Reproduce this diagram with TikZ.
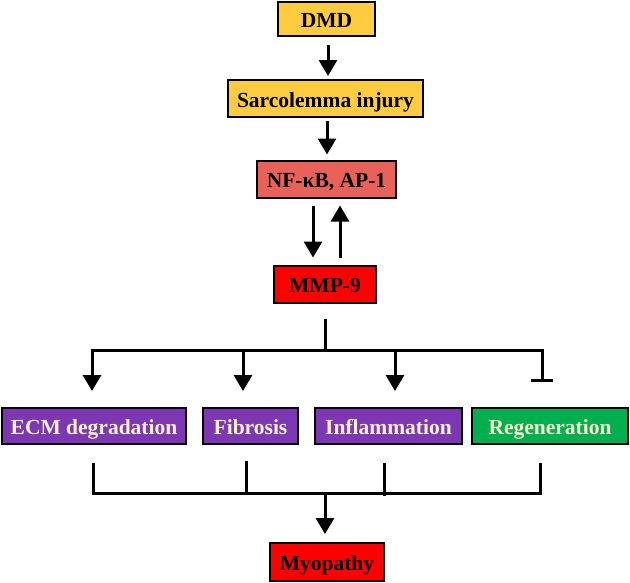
\documentclass[tikz,border=0pt]{standalone}
\usepackage{fontspec}
\setmainfont{Liberation Serif}
\usetikzlibrary{arrows.meta}

\definecolor{boxyellow}{RGB}{255,204,64}
\definecolor{boxsalmon}{RGB}{232,98,90}
\definecolor{boxred}{RGB}{255,0,0}
\definecolor{boxpurple}{RGB}{125,55,178}
\definecolor{boxgreen}{RGB}{0,176,80}
\definecolor{cream}{RGB}{255,242,204}

\begin{document}
\begin{tikzpicture}[x=1pt, y=-1pt,
    box/.style={rectangle, draw=black, line width=2pt, inner sep=0pt,
      minimum height=37pt, text height=17pt, text depth=0pt,
      font=\fontsize{21.5}{24}\selectfont\bfseries},
    link/.style={black, line width=3pt},
    arr/.style={link, -{Triangle[width=18pt,length=16pt]}},
    blunt/.style={link, -{Bar[width=22pt,line width=3pt]}}]
  \useasboundingbox (0,0) rectangle (630,582);
  \node[box, fill=boxyellow, minimum width=97pt, minimum height=34pt] (DMD) at (326.5,19) {DMD};
  \node[box, fill=boxyellow, minimum width=195pt] (SI) at (325.5,98.5) {Sarcolemma injury};
  \node[box, fill=boxsalmon, minimum width=139pt] (NF) at (326.5,179) {NF-κB, AP-1};
  \node[box, fill=boxred, minimum width=102pt] (MMP) at (325,284) {MMP-9};
  \node[box, fill=boxpurple, text=cream, minimum width=184pt, minimum height=36pt] (ECM) at (94,426) {ECM degradation};
  \node[box, fill=boxpurple, text=cream, minimum width=95pt, minimum height=36pt] (FIB) at (250.5,426) {Fibrosis};
  \node[box, fill=boxpurple, text=cream, minimum width=147pt, minimum height=36pt] (INF) at (388.5,426) {Inflammation};
  \node[box, fill=boxgreen, text=cream, minimum width=156pt, minimum height=36pt] (REG) at (550,426) {Regeneration};
  \node[box, fill=boxred, minimum width=114pt, minimum height=38pt] (MYO) at (327,562) {Myopathy};
  % upper chain
  \draw[arr] ([xshift=1.5pt,yshift=-8pt]DMD.south) -- ([xshift=2.5pt,yshift=3pt]SI.north);
  \draw[arr] ([xshift=1.5pt,yshift=-3pt]SI.south) -- ([xshift=0.5pt,yshift=5pt]NF.north);
  \draw[arr] ([xshift=-13.5pt,yshift=-7pt]NF.south) -- ([xshift=-12pt,yshift=7pt]MMP.north);
  \draw[arr] ([xshift=15pt,yshift=7pt]MMP.north) -- ([xshift=13.5pt,yshift=-7pt]NF.south);
  % branching from MMP-9
  \coordinate (split) at (325,350);
  \draw[link] ([yshift=-15pt]MMP.south) -- (split);
  \draw[arr] (split) -| ([xshift=-2pt,yshift=16pt]ECM.north);
  \draw[arr] (split) -| ([xshift=-7.5pt,yshift=16pt]FIB.north);
  \draw[arr] (split) -| ([xshift=6.5pt,yshift=16pt]INF.north);
  \draw[blunt] (split) -| ([xshift=-8pt,yshift=25pt]REG.north);
  % joining into myopathy
  \coordinate (join) at (325,493);
  \coordinate (e1) at ([xshift=-1pt,yshift=-18pt]ECM.south);
  \coordinate (f1) at ([xshift=-4.5pt,yshift=-16pt]FIB.south);
  \coordinate (i1) at ([xshift=-4.5pt,yshift=-18pt]INF.south);
  \coordinate (r1) at ([xshift=-10pt,yshift=-18pt]REG.south);
  \draw[link] (e1) |- (join) -| (r1);
  \draw[link] (f1) -- (f1 |- join);
  \draw[link] (i1) -- ([yshift=-3pt]i1 |- join);
  \draw[arr] (join) -- ([yshift=8pt]join |- MYO.north);
\end{tikzpicture}
\end{document}
